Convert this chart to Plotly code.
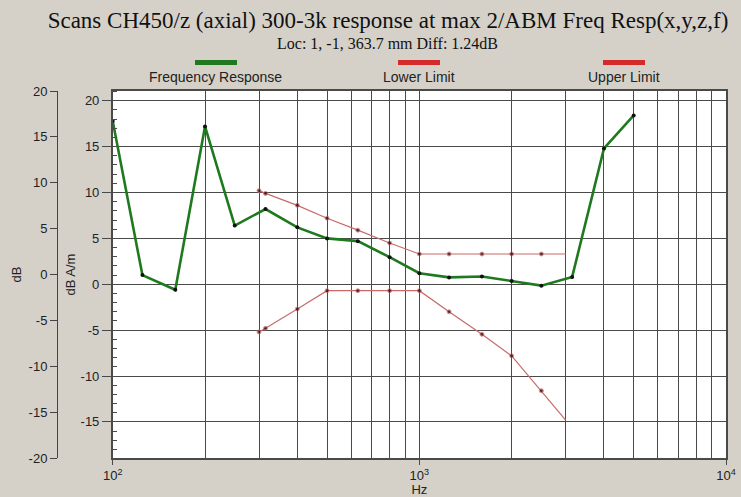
import plotly.graph_objects as go

# ---- data ----
resp_hz = [100, 125, 160, 200, 250, 315, 400, 500, 630, 800, 1000, 1250, 1600, 2000, 2500, 3150, 4000, 5000]
resp_db = [17.8, 1.0, -0.6, 17.2, 6.4, 8.2, 6.2, 5.0, 4.7, 2.95, 1.2, 0.75, 0.85, 0.35, -0.15, 0.8, 14.8, 18.4]

limit_hz = [300, 315, 400, 500, 630, 800, 1000, 1250, 1600, 2000, 2500, 3000]
upper_db = [10.2, 9.9, 8.6, 7.2, 5.9, 4.5, 3.3, 3.3, 3.3, 3.3, 3.3, 3.3]
lower_db = [-5.2, -4.8, -2.7, -0.7, -0.7, -0.7, -0.7, -3.0, -5.45, -7.8, -11.6, -14.8]
limit_marker = [4] * 11 + [0]

x_major = [100, 1000, 10000]
x_major_text = ["10<sup>2</sup>", "10<sup>3</sup>", "10<sup>4</sup>"]
x_minor = [m * d for d in (100, 1000) for m in range(2, 10)]

y_inner_ticks = [-15, -10, -5, 0, 5, 10, 15, 20]
y_outer_ticks = [-20, -15, -10, -5, 0, 5, 10, 15, 20]

legend_names = ["Frequency Response", "Lower Limit", "Upper Limit"]
legend_colors = ["#1f7a1f", "#d42a2a", "#d42a2a"]

BG = "#d5d1c9"
GRID = "#4a4a4a"
SANS = "Liberation Sans, Arial, sans-serif"
SERIF = "Liberation Serif, Times New Roman, serif"

W, H = 741, 497
ML, MR, MT, MB = 0, 15, 91, 39
PW = W - ML - MR
PH = H - MT - MB


def px(x):
    return (x - ML) / PW


def py(y):
    return (H - MB - y) / PH


fig = go.Figure()

fig.add_trace(go.Scatter(
    x=limit_hz, y=upper_db, mode="lines+markers", name="Upper Limit",
    line=dict(color="#c86a6a", width=1.2),
    marker=dict(color="#2a0000", size=limit_marker), showlegend=False))
fig.add_trace(go.Scatter(
    x=limit_hz, y=lower_db, mode="lines+markers", name="Lower Limit",
    line=dict(color="#c86a6a", width=1.2),
    marker=dict(color="#2a0000", size=limit_marker), showlegend=False))
fig.add_trace(go.Scatter(
    x=resp_hz, y=resp_db, mode="lines+markers", name="Frequency Response",
    line=dict(color="#1f7a1f", width=2.6),
    marker=dict(color="#101010", size=4), showlegend=False))
# empty trace to activate the outer dB axis
fig.add_trace(go.Scatter(x=[], y=[], yaxis="y2", showlegend=False, hoverinfo="skip"))

# legend drawn as in the reference: bar above label
leg_x = [(195, 237), (398, 440), (603, 645)]
leg_cx = [215, 419, 624]
for (x0, x1), cx, name, col in zip(leg_x, leg_cx, legend_names, legend_colors):
    fig.add_shape(type="rect", xref="paper", yref="paper",
                  x0=px(x0), x1=px(x1), y0=py(65), y1=py(60),
                  fillcolor=col, line=dict(width=0))
    fig.add_annotation(text=name, xref="paper", yref="paper", x=px(cx), y=py(77),
                       showarrow=False, xanchor="center", yanchor="middle",
                       font=dict(family=SANS, size=14, color="#222"))

fig.add_annotation(text="Loc: 1, -1, 363.7 mm Diff: 1.24dB", xref="paper", yref="paper",
                   x=px(388), y=py(43), showarrow=False, xanchor="center", yanchor="middle",
                   font=dict(family=SERIF, size=16, color="#111"))

fig.update_layout(
    width=W, height=H,
    margin=dict(l=ML, r=MR, t=MT, b=MB, autoexpand=False),
    paper_bgcolor=BG, plot_bgcolor="white",
    title=dict(text="Scans CH450/z (axial) 300-3k response at max 2/ABM Freq Resp(x,y,z,f)",
               x=388 / W, xanchor="center", xref="container",
               y=1 - 20 / H, yanchor="middle", yref="container",
               font=dict(family=SERIF, size=23, color="#111")),
    xaxis=dict(type="log", range=[2, 4], domain=[px(112.7), 1], automargin=False,
               tickvals=x_major, ticktext=x_major_text,
               ticks="outside", ticklen=5, tickcolor=GRID,
               showgrid=True, gridcolor=GRID, gridwidth=1,
               minor=dict(tickvals=x_minor, showgrid=True, gridcolor=GRID, gridwidth=1, ticks=""),
               showline=True, linecolor=GRID, linewidth=1.5, mirror=True,
               tickfont=dict(family=SANS, size=13, color="#222"),
               title=dict(text="Hz", standoff=0, font=dict(family=SANS, size=13, color="#222")),
               zeroline=False),
    yaxis=dict(range=[-18.93, 21.06], automargin=False,
               tickvals=y_inner_ticks, ticktext=[str(v) for v in y_inner_ticks],
               ticks="outside", ticklen=9, tickcolor=GRID,
               showgrid=True, gridcolor=GRID, gridwidth=1.3,
               minor=dict(dtick=1, tick0=0, ticks="inside", ticklen=5, tickcolor=GRID, showgrid=False),
               showline=True, linecolor=GRID, linewidth=1.5, mirror=True,
               tickfont=dict(family=SANS, size=13, color="#222"),
               title=dict(text="dB A/m", standoff=2, font=dict(family=SANS, size=13, color="#222")),
               zeroline=False),
    yaxis2=dict(range=[-20, 20], anchor="free", overlaying="y", automargin=False,
                tickvals=y_outer_ticks, ticktext=[str(v) for v in y_outer_ticks],
                side="left", position=px(57),
                ticks="outside", ticklen=7, tickcolor="#444",
                showgrid=False, zeroline=False,
                showline=True, linecolor="#444", linewidth=1,
                tickfont=dict(family=SANS, size=13, color="#222"),
                title=dict(text="dB", standoff=3, font=dict(family=SANS, size=13, color="#222"))),
)

fig.write_html("out.html")
